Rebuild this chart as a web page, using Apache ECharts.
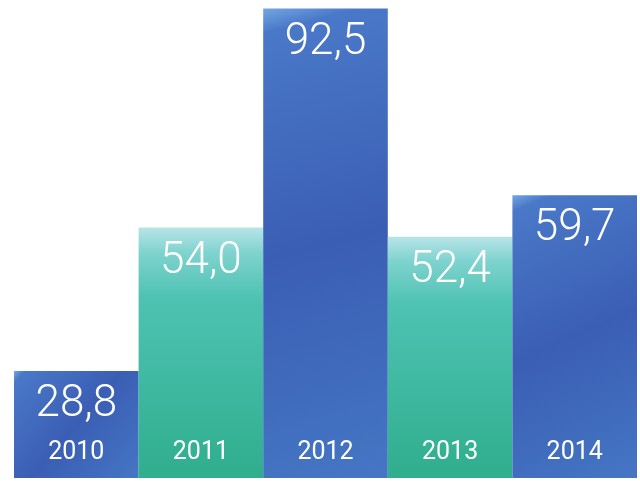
<!DOCTYPE html>
<html><head><meta charset="utf-8">
<script src="https://cdn.jsdelivr.net/npm/echarts@6/dist/echarts.min.js"></script>
<style>html,body{margin:0;padding:0;background:#fff}#c{width:640px;height:481px}</style>
</head><body><div id="c"></div>
<script>
var years = ['2010', '2011', '2012', '2013', '2014'];
var values = [28.8, 54.0, 92.5, 52.4, 59.7];
var kinds = ['blue', 'teal', 'blue', 'teal', 'blue'];

var blueGrad = new echarts.graphic.LinearGradient(0, 0, 1, 1, [
  {offset: 0, color: '#74a6e4'},
  {offset: 0.05, color: '#4a78c8'},
  {offset: 0.5, color: '#3a5eb4'},
  {offset: 1, color: '#4576c4'}
]);
var tealGrad = new echarts.graphic.LinearGradient(0, 0, 0, 1, [
  {offset: 0, color: '#b8e4e8'},
  {offset: 0.1, color: '#7fd3cf'},
  {offset: 0.28, color: '#4ec2b3'},
  {offset: 1, color: '#2fae8d'}
]);

var chart = echarts.init(document.getElementById('c'));
chart.setOption({
  animation: false,
  grid: {left: 14, right: 3, top: 0, bottom: 3},
  xAxis: {
    type: 'category', data: years, z: 10,
    axisLine: {show: false}, axisTick: {show: false},
    axisLabel: {inside: true, margin: 13, color: '#fff', fontSize: 25, fontWeight: 400,
      fontFamily: 'Roboto, sans-serif'}
  },
  yAxis: {type: 'value', min: 10, max: 94, show: false, splitLine: {show: false}},
  series: [{
    type: 'bar',
    barCategoryGap: 0,
    data: values.map(function (v, i) {
      return {value: v, itemStyle: {color: kinds[i] === 'blue' ? blueGrad : tealGrad}};
    }),
    label: {
      show: true, position: 'insideTop', distance: 12, color: '#fff',
      fontSize: 44, fontWeight: 300, fontFamily: 'Roboto, sans-serif',
      formatter: function (p) { return p.value.toFixed(1).replace('.', ','); }
    }
  }]
});
</script></body></html>
